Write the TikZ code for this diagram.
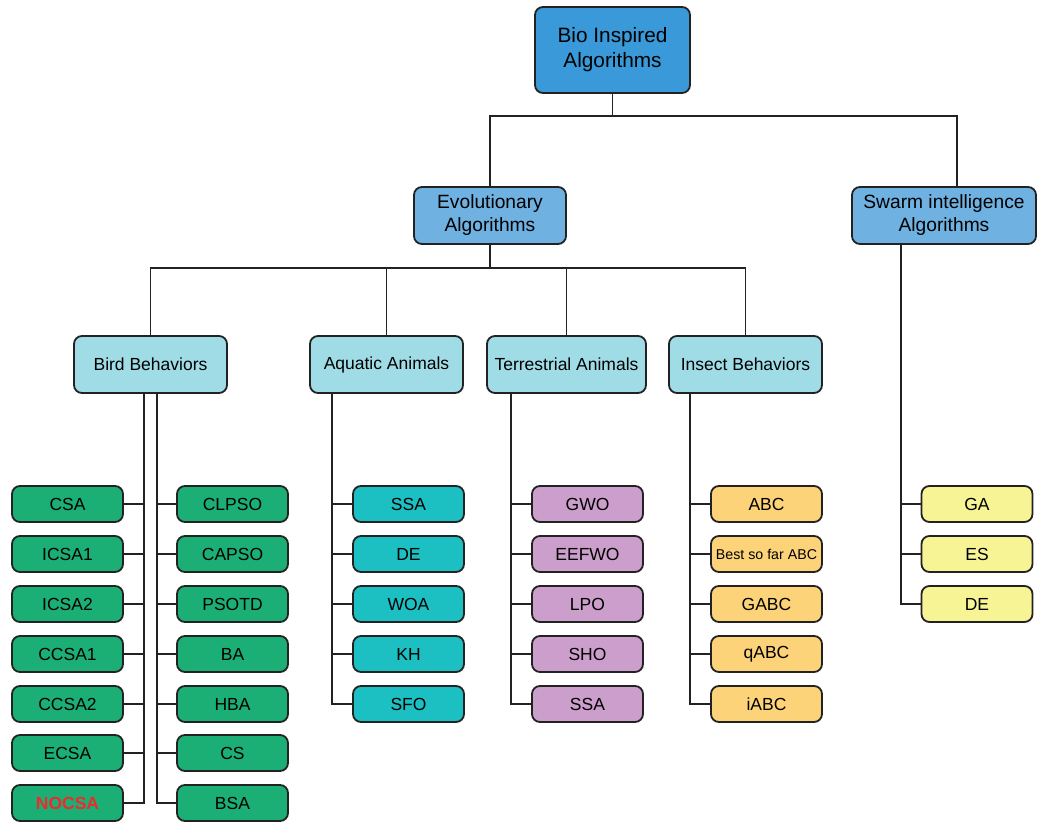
\documentclass[tikz,border=0pt]{standalone}
\usepackage{fontspec}
\setmainfont{Liberation Sans}
\usetikzlibrary{calc}
\definecolor{ctop}{HTML}{3A9AD9}
\definecolor{cone}{HTML}{6FB1E1}
\definecolor{ctwo}{HTML}{A0DCE6}
\definecolor{cgreen}{HTML}{1BAF76}
\definecolor{cteal}{HTML}{1CBFC2}
\definecolor{clilac}{HTML}{CC9ECB}
\definecolor{corange}{HTML}{FDD379}
\definecolor{cyellow}{HTML}{F7F496}
\definecolor{cline}{HTML}{222222}
\definecolor{cred}{HTML}{EE2A2A}
\begin{document}
\begin{tikzpicture}[x=1pt,y=-1pt,
  box/.style={draw=cline, line width=1.8pt, rounded corners=8pt, align=center, inner sep=0pt,
    font=\fontsize{17.5}{23}\selectfont},
  leaf/.style={box, minimum width=111pt, minimum height=36pt},
  midbox/.style={box, minimum height=57pt, font=\fontsize{19.2}{23}\selectfont},
  conn/.style={draw=cline, line width=1.8pt}]
\useasboundingbox (0,0) rectangle (1047,832);

\node[box, fill=ctop, minimum width=155pt, minimum height=86pt, font=\fontsize{20.8}{25}\selectfont] (top) at (612.5,50) {Bio Inspired\\ Algorithms};
\node[midbox, fill=cone, minimum width=152pt] (evo) at (490,215.5) {Evolutionary\\Algorithms};
\node[midbox, fill=cone, minimum width=184pt] (swarm) at (944,215.5) {Swarm intelligence\\Algorithms};

\node[midbox, fill=ctwo, minimum width=153pt, font=\fontsize{17.5}{23}\selectfont] (bird) at (150.5,364.5) {Bird Behaviors};
\node[midbox, fill=ctwo, minimum width=153pt, font=\fontsize{17.5}{23}\selectfont] (aqua) at (386.5,364.5) {Aquatic Animals};
\node[midbox, fill=ctwo, minimum width=159pt, font=\fontsize{17.5}{23}\selectfont] (terr) at (566.5,364.5) {Terrestrial Animals};
\node[midbox, fill=ctwo, minimum width=153pt, font=\fontsize{17.5}{23}\selectfont] (insect) at (745.5,364.5) {Insect Behaviors};

% bird left
\node[leaf, fill=cgreen] (csa) at (67.5,504) {CSA};
\node[leaf, fill=cgreen] (icsaa) at (67.5,554) {ICSA1};
\node[leaf, fill=cgreen] (icsab) at (67.5,604) {ICSA2};
\node[leaf, fill=cgreen] (ccsaa) at (67.5,654) {CCSA1};
\node[leaf, fill=cgreen] (ccsab) at (67.5,704) {CCSA2};
\node[leaf, fill=cgreen] (ecsa) at (67.5,753) {ECSA};
\node[leaf, fill=cgreen, text=cred, font=\fontsize{17.5}{23}\selectfont\bfseries] (nocsa) at (67.5,803) {NOCSA};
% bird right
\node[leaf, fill=cgreen] (clpso) at (232.5,504) {CLPSO};
\node[leaf, fill=cgreen] (capso) at (232.5,554) {CAPSO};
\node[leaf, fill=cgreen] (psotd) at (232.5,604) {PSOTD};
\node[leaf, fill=cgreen] (ba) at (232.5,654) {BA};
\node[leaf, fill=cgreen] (hba) at (232.5,704) {HBA};
\node[leaf, fill=cgreen] (cs) at (232.5,753) {CS};
\node[leaf, fill=cgreen] (bsa) at (232.5,803) {BSA};
% aquatic
\node[leaf, fill=cteal] (ssaq) at (408.5,504) {SSA};
\node[leaf, fill=cteal] (deq) at (408.5,554) {DE};
\node[leaf, fill=cteal] (woa) at (408.5,604) {WOA};
\node[leaf, fill=cteal] (kh) at (408.5,654) {KH};
\node[leaf, fill=cteal] (sfo) at (408.5,704) {SFO};
% terrestrial
\node[leaf, fill=clilac] (gwo) at (587.5,504) {GWO};
\node[leaf, fill=clilac] (eefwo) at (587.5,554) {EEFWO};
\node[leaf, fill=clilac] (lpo) at (587.5,604) {LPO};
\node[leaf, fill=clilac] (sho) at (587.5,654) {SHO};
\node[leaf, fill=clilac] (ssat) at (587.5,704) {SSA};
% insect
\node[leaf, fill=corange] (abc) at (766.5,504) {ABC};
\node[leaf, fill=corange, font=\fontsize{14.2}{17}\selectfont] (bsf) at (766.5,554) {Best so far ABC};
\node[leaf, fill=corange] (gabc) at (766.5,604) {GABC};
\node[leaf, fill=corange] (qabc) at (766.5,654) {qABC};
\node[leaf, fill=corange] (iabc) at (766.5,704) {iABC};
% swarm
\node[leaf, fill=cyellow] (ga) at (977,504) {GA};
\node[leaf, fill=cyellow] (es) at (977,554) {ES};
\node[leaf, fill=cyellow] (des) at (977,604) {DE};

% top connectors
\coordinate (j0) at ($(top.south)+(0,22)$);
\draw[conn] (top.south) -- (j0);
\draw[conn] (j0) -| (evo.north);
\draw[conn] (j0) -| ([xshift=13pt]swarm.north);

\coordinate (j1) at ($(evo.south)+(0,23)$);
\draw[conn] (evo.south) -- (j1);
\foreach \n in {bird,aqua,terr,insect} \draw[conn] (j1) -| (\n.north);

% bird trunks
\coordinate (bl) at ([xshift=-6.5pt]bird.south);
\coordinate (br) at ([xshift=6.5pt]bird.south);
\draw[conn] (bl) |- (nocsa.east);
\draw[conn] (br) |- (bsa.west);
\foreach \n in {csa,icsaa,icsab,ccsaa,ccsab,ecsa} \draw[conn] (\n.east) -- (\n.east -| bl);
\foreach \n in {clpso,capso,psotd,ba,hba,cs} \draw[conn] (\n.west) -- (\n.west -| br);

% aquatic
\coordinate (at) at ([xshift=23pt]aqua.south west);
\draw[conn] (at) |- (sfo.west);
\foreach \n in {ssaq,deq,woa,kh} \draw[conn] (\n.west) -- (\n.west -| at);
% terrestrial
\coordinate (tt) at ([xshift=25pt]terr.south west);
\draw[conn] (tt) |- (ssat.west);
\foreach \n in {gwo,eefwo,lpo,sho} \draw[conn] (\n.west) -- (\n.west -| tt);
% insect
\coordinate (it) at ([xshift=22pt]insect.south west);
\draw[conn] (it) |- (iabc.west);
\foreach \n in {abc,bsf,gabc,qabc} \draw[conn] (\n.west) -- (\n.west -| it);
% swarm
\coordinate (st) at ([xshift=50pt]swarm.south west);
\draw[conn] (st) |- (des.west);
\foreach \n in {ga,es} \draw[conn] (\n.west) -- (\n.west -| st);
\end{tikzpicture}
\end{document}
